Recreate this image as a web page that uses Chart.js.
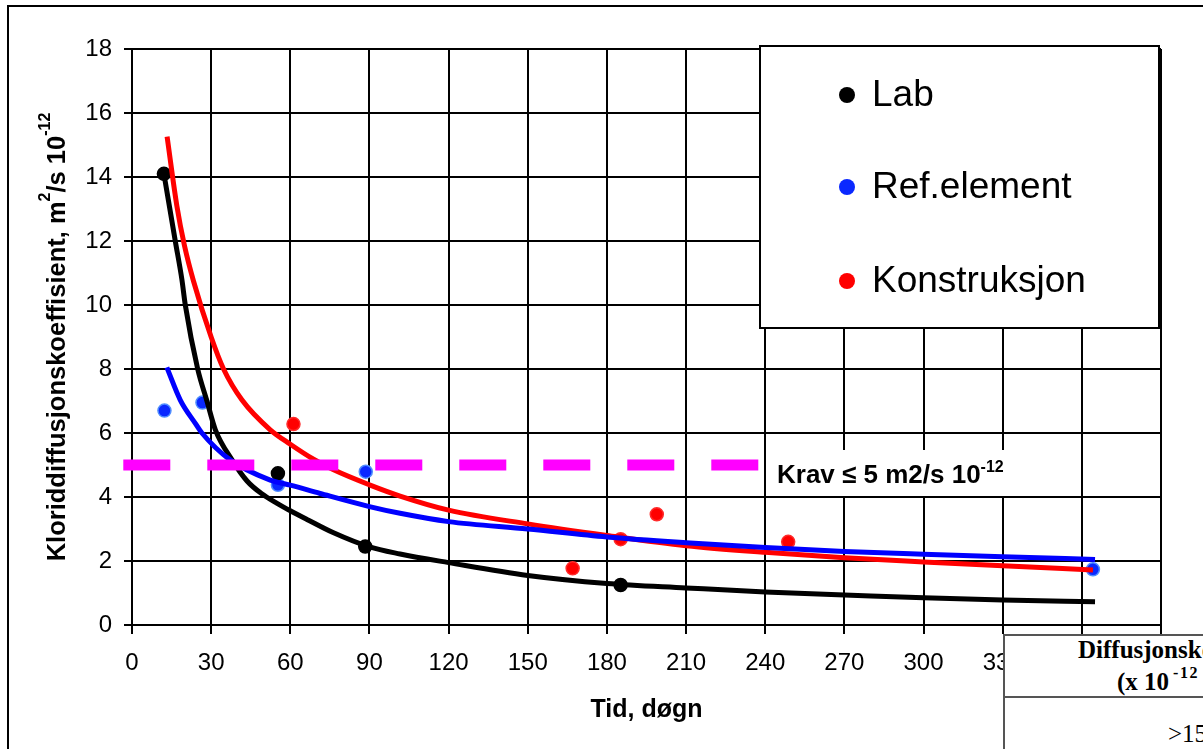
<!DOCTYPE html>
<html lang="no">
<head>
<meta charset="utf-8">
<title>Kloriddiffusjonskoeffisient over tid</title>
<script src="https://cdn.jsdelivr.net/npm/chart.js@4.4.1/dist/chart.umd.min.js"></script>
<style>
  html, body { margin: 0; padding: 0; background: #fff; overflow: hidden; width: 1203px; height: 749px; }
  #ramme { position: absolute; left: 7px; top: 5px; width: 1400px; height: 900px; border: 2px solid #000; }
  #graf { position: absolute; left: 0; top: 0; }
  #tabell { position: absolute; left: 1003px; top: 634px; width: 400px; height: 200px; border: 2px solid #555; background: #fff;
            font-family: "Liberation Serif", "Times New Roman", serif; color: #000; }
  #tabell span { position: absolute; white-space: nowrap; line-height: 1; }
  #tabell .fet { font-weight: bold; font-size: 25px; }
  #tabell sup { font-size: 16px; vertical-align: 12px; line-height: 0; margin-left: 4px; letter-spacing: 1.5px; }
  #tabell .strek { position: absolute; left: 0; right: 0; top: 60px; height: 2px; background: #555; }
</style>
</head>
<body>
<div id="ramme"></div>
<canvas id="graf" width="1203" height="749"></canvas>
<div id="tabell">
  <span class="fet" style="left:73px; top:1px;">Diffusjonskoeffisient</span>
  <span class="fet" style="left:112px; top:33px;">(x 10<sup>-12</sup> m<sup>2</sup>/s)</span>
  <div class="strek"></div>
  <span style="left:163px; top:85px; font-size:25px;">&gt;15</span>
</div>
<script>
// målepunkter (dager, verdi)
const labDager = [12.1, 55.3, 88.4, 185.2];
const labVerdier = [14.1, 4.74, 2.45, 1.25];
const refDager = [12.3, 26.7, 55.3, 88.6, 364.2];
const refVerdier = [6.7, 6.95, 4.38, 4.79, 1.74];
const konstrDager = [61.2, 167, 185.2, 198.9, 248.7];
const konstrVerdier = [6.28, 1.77, 2.68, 3.46, 2.6];

// trendkurver lest av figuren
const labKurveDager = [12.1, 16.4, 18.9, 20.2, 24.9, 28.4, 31.6, 37.9, 43.6, 49.2, 55, 60, 66.3, 76.4, 90, 101.6, 120, 150, 180, 210, 240, 270, 300, 330, 365];
const labKurveVerdier = [14.1, 12.0, 10.8, 10.0, 8.0, 7.0, 6.1, 5.16, 4.5, 4.1, 3.8, 3.57, 3.3, 2.88, 2.44, 2.22, 1.95, 1.55, 1.30, 1.16, 1.03, 0.94, 0.85, 0.78, 0.73];
const refKurveDager = [13.2, 18.3, 24, 26.5, 37.2, 52.4, 60, 71.3, 90, 101.6, 120, 150, 180, 210, 240, 270, 300, 330, 365];
const refKurveVerdier = [8.05, 7.03, 6.3, 6.0, 5.16, 4.53, 4.37, 4.11, 3.7, 3.49, 3.23, 3.0, 2.75, 2.57, 2.42, 2.3, 2.21, 2.13, 2.05];
const konstrKurveDager = [13.3, 17, 19.9, 23.3, 30, 34.7, 41.7, 52.4, 60, 68.8, 76.4, 90, 101.6, 120, 150, 180, 210, 240, 270, 300, 330, 364.2];
const konstrKurveVerdier = [15.26, 13.1, 11.85, 10.75, 9.0, 8.0, 7.03, 6.1, 5.65, 5.18, 4.85, 4.38, 4.03, 3.59, 3.16, 2.8, 2.48, 2.27, 2.1, 1.97, 1.85, 1.72];

// kravlinje
const kravDager = [-3.3, 240];
const kravVerdi = 5;

// akser
const xMin = 0, xMaks = 390, xSteg = 30;
const yMin = 0, yMaks = 18, ySteg = 2;

const serieNavn = ['Lab', 'Ref.element', 'Konstruksjon'];
const serieFarger = ['#000000', '#0a28ff', '#ff0000'];
const kravTekst = 'Krav \u2264 5 m2/s 10';
// y-aksetittel i biter: [tekst, hevet skrift]
const yTittelDeler = [['Kloriddiffusjonskoeffisient, m', false], ['2', true], ['/s 10', false], ['-12', true]];

const FONT = '"Liberation Sans", Arial, sans-serif';

function punkter(xs, ys) {
  return xs.map((x, i) => ({ x: x, y: Array.isArray(ys) ? ys[i] : ys }));
}

function kurve(xs, ys, farge) {
  return {
    data: punkter(xs, ys),
    showLine: true,
    borderColor: farge,
    borderWidth: 5,
    pointRadius: 0,
    cubicInterpolationMode: 'monotone',
    fill: false
  };
}

function maalepunkter(xs, ys, farge, kant) {
  return {
    data: punkter(xs, ys),
    showLine: false,
    backgroundColor: farge,
    borderColor: kant,
    borderWidth: 1.5,
    pointRadius: 6.5
  };
}

// tegner y-tittel, forklaringsboksen og kravetiketten
const forklaring = {
  id: 'forklaring',
  afterDraw(chart) {
    const ctx = chart.ctx;
    const area = chart.chartArea;
    ctx.save();
    ctx.fillStyle = '#000';

    // y-aksetittel med hevet skrift
    ctx.save();
    ctx.translate(65, (area.top + area.bottom) / 2);
    ctx.rotate(-Math.PI / 2);
    ctx.textBaseline = 'alphabetic';
    ctx.textAlign = 'left';
    let total = 0;
    yTittelDeler.forEach(([t, hevet]) => {
      ctx.font = (hevet ? 'bold 16px ' : 'bold 25.5px ') + FONT;
      total += ctx.measureText(t).width;
    });
    let pos = -total / 2;
    yTittelDeler.forEach(([t, hevet]) => {
      ctx.font = (hevet ? 'bold 16px ' : 'bold 25.5px ') + FONT;
      ctx.fillText(t, pos, hevet ? -15 : 0);
      pos += ctx.measureText(t).width;
    });
    ctx.restore();

    // kravetikett
    ctx.fillStyle = '#fff';
    ctx.fillRect(766, 450, 247, 46);
    ctx.fillStyle = '#000';
    ctx.textBaseline = 'alphabetic';
    ctx.textAlign = 'left';
    ctx.font = 'bold 26px ' + FONT;
    ctx.fillText(kravTekst, 777, 483);
    const b = ctx.measureText(kravTekst).width;
    ctx.font = 'bold 16px ' + FONT;
    ctx.fillText('-12', 777 + b, 472);

    // forklaring
    ctx.fillStyle = '#fff';
    ctx.fillRect(760, 46, 399, 282);
    ctx.strokeStyle = '#000';
    ctx.lineWidth = 2;
    ctx.strokeRect(760, 46, 399, 282);
    const radY = [95, 187, 281];
    ctx.font = '37px ' + FONT;
    ctx.textBaseline = 'middle';
    serieNavn.forEach((navn, i) => {
      ctx.beginPath();
      ctx.arc(847, radY[i], 8, 0, Math.PI * 2);
      ctx.fillStyle = serieFarger[i];
      ctx.fill();
      ctx.fillStyle = '#000';
      ctx.fillText(navn, 872, radY[i] + 1);
    });
    ctx.restore();
  }
};

const datasett = [
  {
    data: punkter(kravDager, kravVerdi),
    showLine: true,
    borderColor: '#ff00ff',
    borderWidth: 11,
    borderDash: [47, 37],
    borderCapStyle: 'butt',
    pointRadius: 0,
    clip: false
  },
  kurve(refKurveDager, refKurveVerdier, '#0000ff'),
  kurve(konstrKurveDager, konstrKurveVerdier, '#ff0000'),
  kurve(labKurveDager, labKurveVerdier, '#000000'),
  maalepunkter(labDager, labVerdier, '#000000', '#000000'),
  maalepunkter(refDager, refVerdier, '#0a28ff', '#4f8dff'),
  maalepunkter(konstrDager, konstrVerdier, '#ff0000', '#ff2a2a')
];

new Chart(document.getElementById('graf').getContext('2d'), {
  type: 'scatter',
  data: { datasets: datasett },
  options: {
    responsive: false,
    devicePixelRatio: 1,
    animation: false,
    layout: { padding: { left: 0, top: 49, right: 42, bottom: 0 } },
    plugins: {
      legend: { display: false },
      tooltip: { enabled: false }
    },
    scales: {
      x: {
        type: 'linear',
        min: xMin,
        max: xMaks,
        afterFit: (s) => { s.height = 124; },
        grid: { color: '#000', lineWidth: 2, tickLength: 9, tickColor: '#000' },
        border: { color: '#000', width: 2 },
        ticks: { stepSize: xSteg, color: '#000', padding: 15, maxRotation: 0, autoSkip: false,
                 font: { family: FONT, size: 24 } },
        title: { display: true, text: 'Tid, døgn', color: '#000',
                 font: { family: FONT, size: 25, weight: 'bold' }, padding: { top: 0, bottom: 24 } }
      },
      y: {
        type: 'linear',
        min: yMin,
        max: yMaks,
        afterFit: (s) => { s.width = 132; },
        grid: { color: '#000', lineWidth: 2, tickLength: 8, tickColor: '#000' },
        border: { color: '#000', width: 2 },
        ticks: { stepSize: ySteg, color: '#000', padding: 12, font: { family: FONT, size: 24 } }
      }
    }
  },
  plugins: [forklaring]
});
</script>
</body>
</html>
